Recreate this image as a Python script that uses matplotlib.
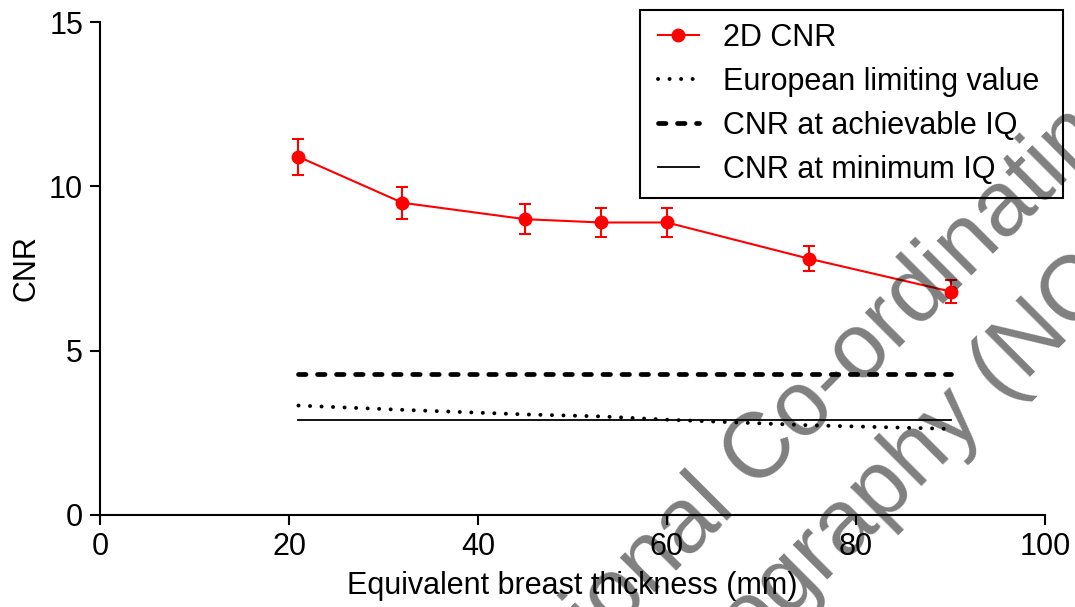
import matplotlib
matplotlib.use("Agg")
import matplotlib.pyplot as plt
from matplotlib.patches import Rectangle

plt.rcParams['font.family'] = ['Liberation Sans', 'DejaVu Sans']
plt.rcParams['lines.scale_dashes'] = False

# data
thickness = [21, 32, 45, 53, 60, 75, 90]
cnr_2d = [10.9, 9.5, 9.0, 8.9, 8.9, 7.8, 6.8]
cnr_err = [0.55, 0.48, 0.45, 0.45, 0.45, 0.39, 0.34]
european_limit = [3.33, 3.2, 3.06, 3.0, 2.9, 2.73, 2.62]
cnr_achievable = [4.3, 4.3, 4.3, 4.3, 4.3, 4.3, 4.3]
cnr_minimum = [2.9, 2.9, 2.9, 2.9, 2.9, 2.9, 2.9]

labels = ['2D CNR', 'European limiting value', 'CNR at achievable IQ', 'CNR at minimum IQ']
x_ticks = [0, 20, 40, 60, 80, 100]
y_ticks = [0, 5, 10, 15]
watermark = ['National Co-ordinating Centre for the Physics of', 'Mammography (NCCPM)']

FS = 22
W, H = 1075, 607

fig = plt.figure(figsize=(W / 100, H / 100), dpi=100)
ax = fig.add_axes([100 / W, 1 - 515 / H, 945 / W, 493 / H])

ax.errorbar(thickness, cnr_2d, yerr=cnr_err, fmt='none', ecolor='red',
            elinewidth=1.5, capsize=4, capthick=1.5)
ax.plot(thickness, cnr_2d, color='red', lw=1.5, marker='o', ms=9, label=labels[0])
ax.plot(thickness, european_limit, color='black', lw=2.8, dashes=(0.1, 8.2),
        dash_capstyle='round', label=labels[1])
ax.plot(thickness, cnr_achievable, color='black', lw=3.4, dashes=(5.4, 8.3),
        dash_capstyle='round', label=labels[2])
ax.plot(thickness, cnr_minimum, color='black', lw=1.3, label=labels[3])

ax.set_xlim(0, 100)
ax.set_ylim(0, 15)
ax.set_xticks(x_ticks)
ax.set_yticks(y_ticks)
ax.tick_params(labelsize=FS, width=1.5, length=7.2, pad=5, direction='out')
for side in ['top', 'right']:
    ax.spines[side].set_visible(False)
for side in ['left', 'bottom']:
    ax.spines[side].set_linewidth(1.5)

ax.set_xlabel('Equivalent breast thickness (mm)', fontsize=FS)
ax.set_ylabel('CNR', fontsize=FS)
ax.xaxis.set_label_coords(0.5, -0.113)
ax.yaxis.set_label_coords(-0.062, 0.5)

# legend contents without frame, frame drawn as a plain box
ax.legend(loc='upper left', bbox_to_anchor=(658 / W, 1 - 23 / H),
          bbox_transform=fig.transFigure, borderaxespad=0, borderpad=0,
          frameon=False, fontsize=FS, numpoints=1, handlelength=1.34,
          handletextpad=0.79, labelspacing=0.46)
fig.add_artist(Rectangle((640 / W, 1 - 198 / H), 423 / W, 188 / H,
                         transform=fig.transFigure, fill=False,
                         edgecolor='black', lw=1.5, zorder=5))

# grey watermark, drawn on top like a multiply layer
anchors = [(500, 748), (554, 854)]
for txt, (px, py) in zip(watermark, anchors):
    fig.text(px / W, 1 - py / H, txt, rotation=45, rotation_mode='anchor',
             ha='left', va='baseline', fontsize=66, color='black', alpha=0.5,
             zorder=10)

fig.savefig('out.png', dpi=100)
